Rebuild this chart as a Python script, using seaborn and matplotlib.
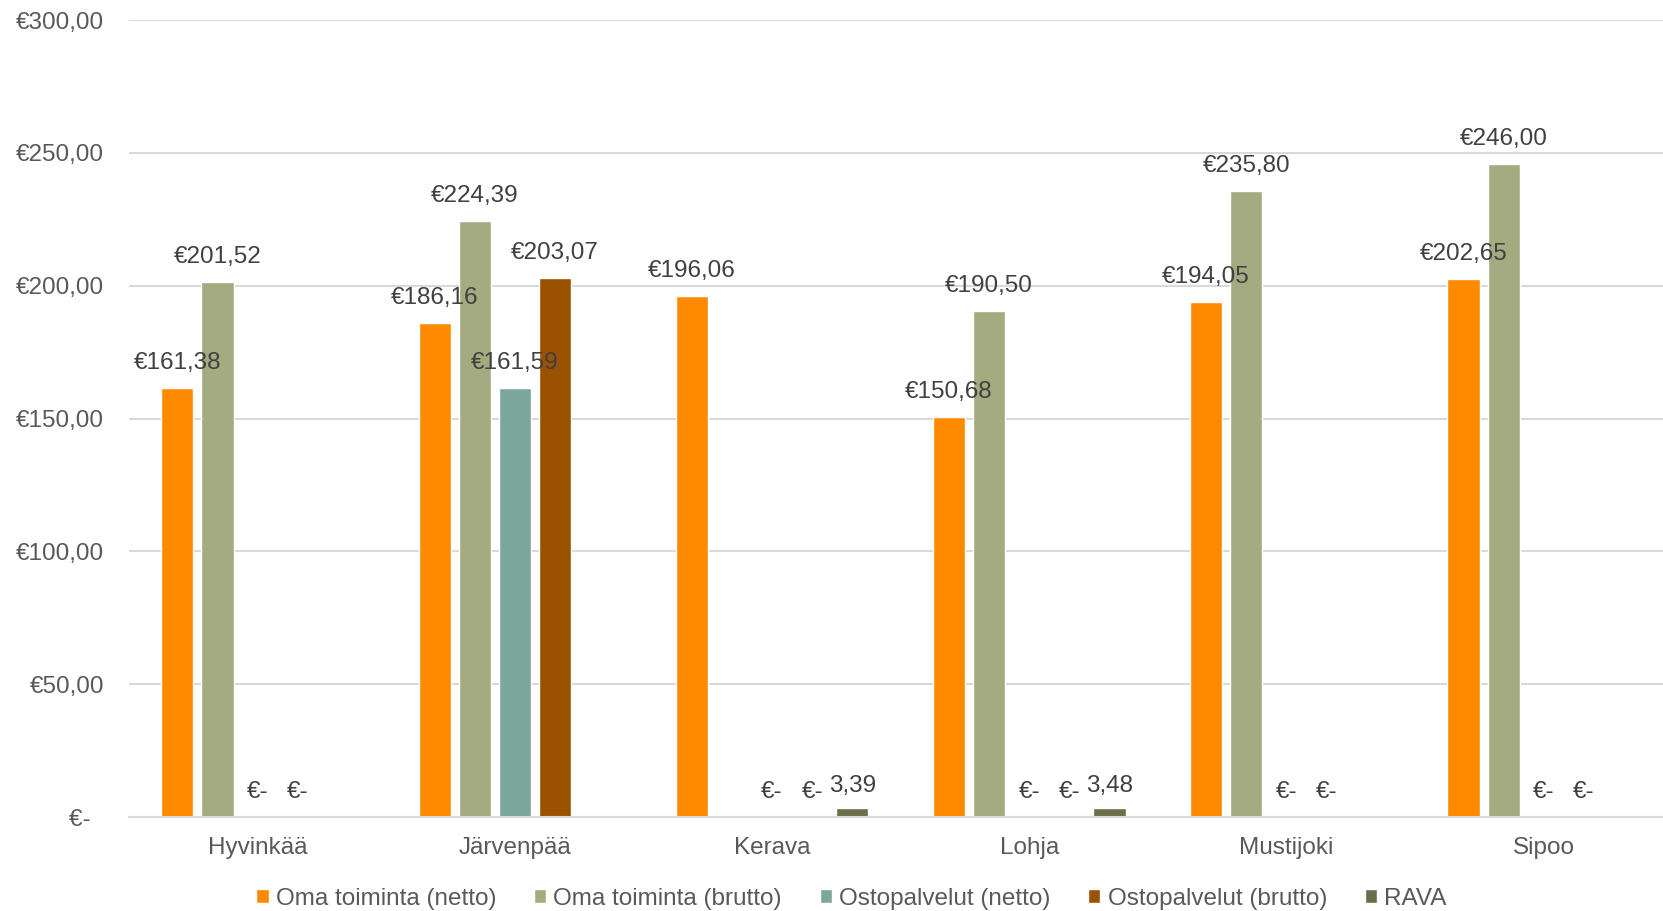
import numpy as np
import pandas as pd
import matplotlib
matplotlib.use("Agg")
import matplotlib.pyplot as plt
import seaborn as sns

# ---- data ----
categories = ["Hyvinkää", "Järvenpää", "Kerava", "Lohja", "Mustijoki", "Sipoo"]
series = ["Oma toiminta (netto)", "Oma toiminta (brutto)", "Ostopalvelut (netto)",
          "Ostopalvelut (brutto)", "RAVA"]
oma_netto = [161.38, 186.16, 196.06, 150.68, 194.05, 202.65]
oma_brutto = [201.52, 224.39, np.nan, 190.50, 235.80, 246.00]
osto_netto = [0.0, 161.59, 0.0, 0.0, 0.0, 0.0]
osto_brutto = [0.0, 203.07, 0.0, 0.0, 0.0, 0.0]
rava = [np.nan, np.nan, 3.39, 3.48, np.nan, np.nan]
y_ticks = [0, 50, 100, 150, 200, 250, 300]
colors = ["#FF8A00", "#A5AB81", "#7BA79D", "#9A5200", "#6B6E48"]

values = [oma_netto, oma_brutto, osto_netto, osto_brutto, rava]
rows = []
for s, vals in zip(series, values):
    for c, v in zip(categories, vals):
        rows.append({"kunta": c, "sarja": s, "arvo": v})
df = pd.DataFrame(rows)

sns.set_theme(style="white")
plt.rcParams["font.family"] = ["Liberation Sans", "DejaVu Sans"]

FS = 17.5
fig = plt.figure(figsize=(16.63, 9.11), dpi=100)
ax = fig.add_axes([0.0776, 0.103, 0.928, 0.875])

sns.barplot(data=df.dropna(), x="kunta", y="arvo", hue="sarja", order=categories,
            hue_order=series, palette=colors, width=0.78, gap=0.2, saturation=1,
            errorbar=None, ax=ax, legend=True)


def fmt_eur(v):
    if abs(v) < 1e-9:
        return "€-"
    return "€" + f"{v:.2f}".replace(".", ",")


def fmt_plain(v):
    return f"{v:.2f}".replace(".", ",")


for cont, s in zip(ax.containers, series):
    small = s == "RAVA"
    ax.bar_label(cont, fmt=fmt_plain if small else fmt_eur, padding=8 if small else 10,
                 fontsize=FS, color="#404040")

ax.set_ylim(0, 300)
ax.set_yticks(y_ticks)
ax.set_yticklabels([("€" + f"{t:.2f}".replace(".", ",")) if t else "€-  " for t in y_ticks])
ax.set_xlim(-0.5, len(categories) - 0.5)
ax.set_xlabel("")
ax.set_ylabel("")
ax.yaxis.grid(True, color="#D9D9D9", linewidth=1.5)
ax.set_axisbelow(True)
for side in ["left", "right", "top"]:
    ax.spines[side].set_visible(False)
ax.spines["bottom"].set_color("#D9D9D9")
ax.spines["bottom"].set_linewidth(1.5)
ax.tick_params(axis="y", length=0, pad=18, labelsize=FS, labelcolor="#595959")
ax.tick_params(axis="x", length=0, pad=14, labelsize=FS, labelcolor="#595959")

handles, labels = ax.get_legend_handles_labels()
ax.legend_.remove()
fig.legend(handles, labels, loc="center", bbox_to_anchor=(0.512, 1 - 899 / 911), ncol=5,
           frameon=False, fontsize=FS, handlelength=0.5, handleheight=0.5,
           handletextpad=0.3, columnspacing=1.55, labelcolor="#595959")

fig.savefig("out.png", dpi=100)
